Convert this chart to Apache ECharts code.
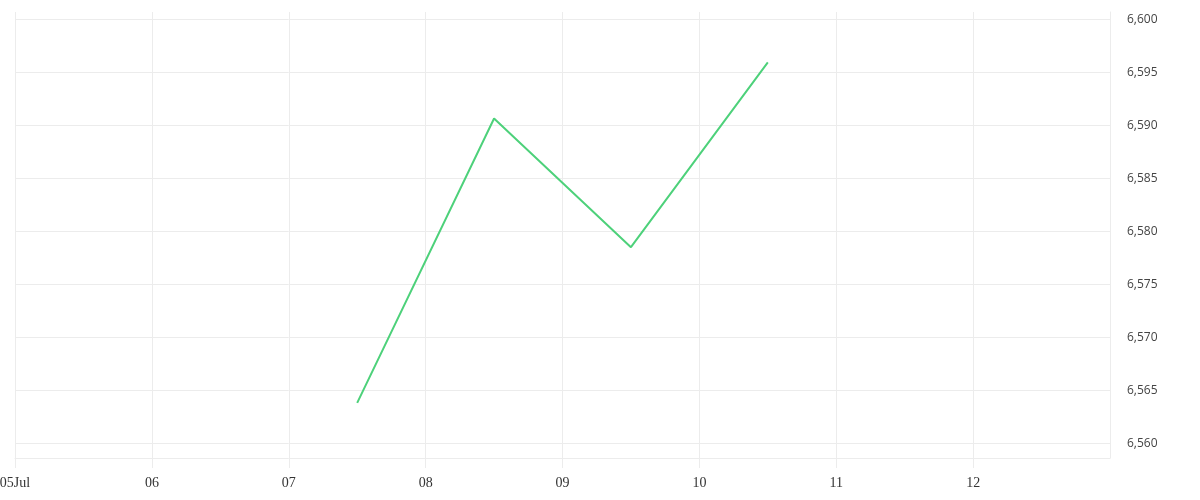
<!DOCTYPE html>
<html>
<head>
<meta charset="utf-8">
<script src="https://cdn.jsdelivr.net/npm/echarts@6/dist/echarts.min.js"></script>
<style>
  html, body { margin: 0; padding: 0; background: #fff; }
  #main { width: 1200px; height: 500px; }
</style>
</head>
<body>
<div id="main"></div>
<script>
// data
var dates = ['2023-07-07 12:00', '2023-07-08 12:00', '2023-07-09 12:00', '2023-07-10 12:00'];
var prices = [6563.8, 6590.65, 6578.5, 6595.95];

var axisStart = '2023-07-05 00:00';
var axisEnd = '2023-07-13 00:00';
var yMin = 6558.6;
var yMax = 6600.7;
var yTicks = [6560, 6565, 6570, 6575, 6580, 6585, 6590, 6595, 6600];

function toTime(s) {
    return new Date(s.replace(' ', 'T')).getTime();
}

var seriesData = dates.map(function (d, i) {
    return [toTime(d), prices[i]];
});

var gridColor = '#ececec';

option = {
    animation: false,
    grid: {
        left: 15,
        right: 90,
        top: 12,
        bottom: 42,
        containLabel: false,
        outerBoundsMode: 'none'
    },
    xAxis: {
        type: 'time',
        min: toTime(axisStart),
        max: toTime(axisEnd),
        minInterval: 86400000,
        maxInterval: 86400000,
        axisLine: { show: true, lineStyle: { color: gridColor, width: 1 } },
        axisTick: { show: true, length: 10, lineStyle: { color: gridColor } },
        splitLine: { show: true, lineStyle: { color: gridColor, width: 1 } },
        axisLabel: {
            showMaxLabel: false,
            showMinLabel: true,
            hideOverlap: false,
            margin: 18,
            fontSize: 14,
            color: '#333',
            fontFamily: 'Liberation Serif',
            formatter: function (val) {
                var d = new Date(val);
                var dd = ('0' + d.getDate()).slice(-2);
                return val === toTime(axisStart) ? dd + 'Jul' : dd;
            }
        }
    },
    yAxis: {
        type: 'value',
        position: 'right',
        min: yMin,
        max: yMax,
        axisLine: { show: true, lineStyle: { color: gridColor } },
        axisTick: { show: false, customValues: yTicks },
        splitLine: {
            show: true,
            lineStyle: { color: gridColor, width: 1 }
        },
        axisLabel: {
            customValues: yTicks,
            margin: 17,
            fontSize: 12,
            color: '#444',
            fontFamily: 'Open Sans',
            formatter: function (v) {
                return Math.round(v).toLocaleString('en-US');
            }
        }
    },
    series: [
        {
            type: 'line',
            data: seriesData,
            symbol: 'none',
            smooth: false,
            lineStyle: { color: '#4dd17a', width: 2 }
        }
    ]
};
var myChart = echarts.init(document.getElementById('main'));
myChart.setOption(option);
</script>
</body>
</html>
